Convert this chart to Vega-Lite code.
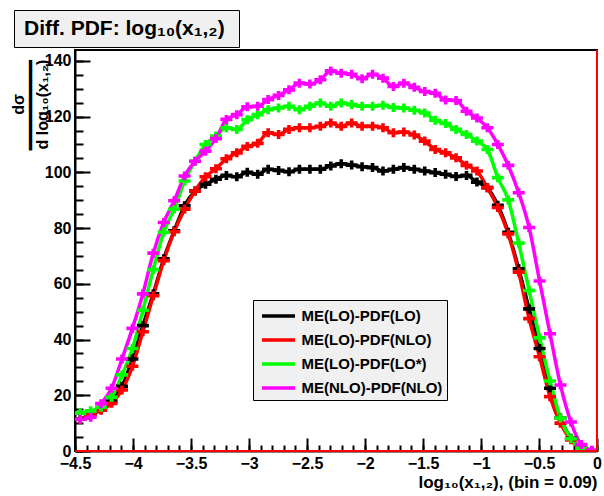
{
"$schema": "https://vega.github.io/schema/vega-lite/v6.json",
"width": 522, "height": 401,
"autosize": {"type": "none"},
"padding": {"left": 75, "top": 50, "right": 7, "bottom": 45},
"background": "white",
"config": {"view": {"stroke": "black", "strokeWidth": 2}, "font": "Liberation Sans"},
"data": {"values": [
{"x":-4.455,"y":11.5,"s":"ME(LO)-PDF(LO)"},{"x":-4.365,"y":13,"s":"ME(LO)-PDF(LO)"},{"x":-4.275,"y":15,"s":"ME(LO)-PDF(LO)"},{"x":-4.185,"y":17.8,"s":"ME(LO)-PDF(LO)"},{"x":-4.095,"y":23.2,"s":"ME(LO)-PDF(LO)"},{"x":-4.005,"y":33,"s":"ME(LO)-PDF(LO)"},{"x":-3.915,"y":45,"s":"ME(LO)-PDF(LO)"},{"x":-3.825,"y":56.4,"s":"ME(LO)-PDF(LO)"},{"x":-3.735,"y":69,"s":"ME(LO)-PDF(LO)"},{"x":-3.645,"y":79,"s":"ME(LO)-PDF(LO)"},
{"x":-3.555,"y":88,"s":"ME(LO)-PDF(LO)"},{"x":-3.465,"y":93.3,"s":"ME(LO)-PDF(LO)"},{"x":-3.375,"y":95.7,"s":"ME(LO)-PDF(LO)"},{"x":-3.285,"y":97.5,"s":"ME(LO)-PDF(LO)"},{"x":-3.195,"y":98.9,"s":"ME(LO)-PDF(LO)"},{"x":-3.105,"y":98.4,"s":"ME(LO)-PDF(LO)"},{"x":-3.015,"y":100,"s":"ME(LO)-PDF(LO)"},{"x":-2.925,"y":99.3,"s":"ME(LO)-PDF(LO)"},{"x":-2.835,"y":101.1,"s":"ME(LO)-PDF(LO)"},{"x":-2.745,"y":100.7,"s":"ME(LO)-PDF(LO)"},
{"x":-2.655,"y":100.2,"s":"ME(LO)-PDF(LO)"},{"x":-2.565,"y":101.1,"s":"ME(LO)-PDF(LO)"},{"x":-2.475,"y":101.1,"s":"ME(LO)-PDF(LO)"},{"x":-2.385,"y":101.1,"s":"ME(LO)-PDF(LO)"},{"x":-2.295,"y":102.3,"s":"ME(LO)-PDF(LO)"},{"x":-2.205,"y":103.1,"s":"ME(LO)-PDF(LO)"},{"x":-2.115,"y":102.6,"s":"ME(LO)-PDF(LO)"},{"x":-2.025,"y":102,"s":"ME(LO)-PDF(LO)"},{"x":-1.935,"y":101.7,"s":"ME(LO)-PDF(LO)"},{"x":-1.845,"y":100.5,"s":"ME(LO)-PDF(LO)"},
{"x":-1.755,"y":101.1,"s":"ME(LO)-PDF(LO)"},{"x":-1.665,"y":101.7,"s":"ME(LO)-PDF(LO)"},{"x":-1.575,"y":101.1,"s":"ME(LO)-PDF(LO)"},{"x":-1.485,"y":100.5,"s":"ME(LO)-PDF(LO)"},{"x":-1.395,"y":99.9,"s":"ME(LO)-PDF(LO)"},{"x":-1.305,"y":99.3,"s":"ME(LO)-PDF(LO)"},{"x":-1.215,"y":98.5,"s":"ME(LO)-PDF(LO)"},{"x":-1.125,"y":98.9,"s":"ME(LO)-PDF(LO)"},{"x":-1.035,"y":96.5,"s":"ME(LO)-PDF(LO)"},{"x":-0.945,"y":94.5,"s":"ME(LO)-PDF(LO)"},
{"x":-0.855,"y":88.2,"s":"ME(LO)-PDF(LO)"},{"x":-0.765,"y":78.5,"s":"ME(LO)-PDF(LO)"},{"x":-0.675,"y":65.4,"s":"ME(LO)-PDF(LO)"},{"x":-0.585,"y":51,"s":"ME(LO)-PDF(LO)"},{"x":-0.495,"y":36.8,"s":"ME(LO)-PDF(LO)"},{"x":-0.405,"y":22.5,"s":"ME(LO)-PDF(LO)"},{"x":-0.315,"y":11.8,"s":"ME(LO)-PDF(LO)"},{"x":-0.225,"y":4.6,"s":"ME(LO)-PDF(LO)"},{"x":-0.135,"y":1,"s":"ME(LO)-PDF(LO)"},{"x":-0.045,"y":0.1,"s":"ME(LO)-PDF(LO)"},

{"x":-4.455,"y":11.4,"s":"ME(LO)-PDF(NLO)"},{"x":-4.365,"y":13,"s":"ME(LO)-PDF(NLO)"},{"x":-4.275,"y":14.6,"s":"ME(LO)-PDF(NLO)"},{"x":-4.185,"y":17.1,"s":"ME(LO)-PDF(NLO)"},{"x":-4.095,"y":21.9,"s":"ME(LO)-PDF(NLO)"},{"x":-4.005,"y":30.4,"s":"ME(LO)-PDF(NLO)"},{"x":-3.915,"y":42.8,"s":"ME(LO)-PDF(NLO)"},{"x":-3.825,"y":55.7,"s":"ME(LO)-PDF(NLO)"},{"x":-3.735,"y":68.3,"s":"ME(LO)-PDF(NLO)"},{"x":-3.645,"y":78.7,"s":"ME(LO)-PDF(NLO)"},
{"x":-3.555,"y":86.8,"s":"ME(LO)-PDF(NLO)"},{"x":-3.465,"y":93.3,"s":"ME(LO)-PDF(NLO)"},{"x":-3.375,"y":98.4,"s":"ME(LO)-PDF(NLO)"},{"x":-3.285,"y":101.3,"s":"ME(LO)-PDF(NLO)"},{"x":-3.195,"y":104.9,"s":"ME(LO)-PDF(NLO)"},{"x":-3.105,"y":107,"s":"ME(LO)-PDF(NLO)"},{"x":-3.015,"y":109.3,"s":"ME(LO)-PDF(NLO)"},{"x":-2.925,"y":110.4,"s":"ME(LO)-PDF(NLO)"},{"x":-2.835,"y":114.2,"s":"ME(LO)-PDF(NLO)"},{"x":-2.745,"y":113.6,"s":"ME(LO)-PDF(NLO)"},
{"x":-2.655,"y":115.4,"s":"ME(LO)-PDF(NLO)"},{"x":-2.565,"y":116,"s":"ME(LO)-PDF(NLO)"},{"x":-2.475,"y":116,"s":"ME(LO)-PDF(NLO)"},{"x":-2.385,"y":116.5,"s":"ME(LO)-PDF(NLO)"},{"x":-2.295,"y":117.7,"s":"ME(LO)-PDF(NLO)"},{"x":-2.205,"y":116.5,"s":"ME(LO)-PDF(NLO)"},{"x":-2.115,"y":117.7,"s":"ME(LO)-PDF(NLO)"},{"x":-2.025,"y":116.5,"s":"ME(LO)-PDF(NLO)"},{"x":-1.935,"y":116.5,"s":"ME(LO)-PDF(NLO)"},{"x":-1.845,"y":116,"s":"ME(LO)-PDF(NLO)"},
{"x":-1.755,"y":114.2,"s":"ME(LO)-PDF(NLO)"},{"x":-1.665,"y":114.5,"s":"ME(LO)-PDF(NLO)"},{"x":-1.575,"y":113.4,"s":"ME(LO)-PDF(NLO)"},{"x":-1.485,"y":111.2,"s":"ME(LO)-PDF(NLO)"},{"x":-1.395,"y":108.2,"s":"ME(LO)-PDF(NLO)"},{"x":-1.305,"y":107,"s":"ME(LO)-PDF(NLO)"},{"x":-1.215,"y":105.2,"s":"ME(LO)-PDF(NLO)"},{"x":-1.125,"y":102.5,"s":"ME(LO)-PDF(NLO)"},{"x":-1.035,"y":100.5,"s":"ME(LO)-PDF(NLO)"},{"x":-0.945,"y":94.5,"s":"ME(LO)-PDF(NLO)"},
{"x":-0.855,"y":87.4,"s":"ME(LO)-PDF(NLO)"},{"x":-0.765,"y":77.9,"s":"ME(LO)-PDF(NLO)"},{"x":-0.675,"y":64.2,"s":"ME(LO)-PDF(NLO)"},{"x":-0.585,"y":47.5,"s":"ME(LO)-PDF(NLO)"},{"x":-0.495,"y":33.8,"s":"ME(LO)-PDF(NLO)"},{"x":-0.405,"y":19.5,"s":"ME(LO)-PDF(NLO)"},{"x":-0.315,"y":10,"s":"ME(LO)-PDF(NLO)"},{"x":-0.225,"y":4,"s":"ME(LO)-PDF(NLO)"},{"x":-0.135,"y":0.8,"s":"ME(LO)-PDF(NLO)"},{"x":-0.045,"y":0.1,"s":"ME(LO)-PDF(NLO)"},

{"x":-4.455,"y":13.6,"s":"ME(LO)-PDF(LO*)"},{"x":-4.365,"y":14.4,"s":"ME(LO)-PDF(LO*)"},{"x":-4.275,"y":15.7,"s":"ME(LO)-PDF(LO*)"},{"x":-4.185,"y":19.3,"s":"ME(LO)-PDF(LO*)"},{"x":-4.095,"y":27.3,"s":"ME(LO)-PDF(LO*)"},{"x":-4.005,"y":36.8,"s":"ME(LO)-PDF(LO*)"},{"x":-3.915,"y":50.5,"s":"ME(LO)-PDF(LO*)"},{"x":-3.825,"y":65.1,"s":"ME(LO)-PDF(LO*)"},{"x":-3.735,"y":78.5,"s":"ME(LO)-PDF(LO*)"},{"x":-3.645,"y":86.8,"s":"ME(LO)-PDF(LO*)"},
{"x":-3.555,"y":96.9,"s":"ME(LO)-PDF(LO*)"},{"x":-3.465,"y":104,"s":"ME(LO)-PDF(LO*)"},{"x":-3.375,"y":110,"s":"ME(LO)-PDF(LO*)"},{"x":-3.285,"y":113,"s":"ME(LO)-PDF(LO*)"},{"x":-3.195,"y":116,"s":"ME(LO)-PDF(LO*)"},{"x":-3.105,"y":115.4,"s":"ME(LO)-PDF(LO*)"},{"x":-3.015,"y":118.9,"s":"ME(LO)-PDF(LO*)"},{"x":-2.925,"y":120.7,"s":"ME(LO)-PDF(LO*)"},{"x":-2.835,"y":122.5,"s":"ME(LO)-PDF(LO*)"},{"x":-2.745,"y":123.1,"s":"ME(LO)-PDF(LO*)"},
{"x":-2.655,"y":123.7,"s":"ME(LO)-PDF(LO*)"},{"x":-2.565,"y":122.5,"s":"ME(LO)-PDF(LO*)"},{"x":-2.475,"y":123.7,"s":"ME(LO)-PDF(LO*)"},{"x":-2.385,"y":124.9,"s":"ME(LO)-PDF(LO*)"},{"x":-2.295,"y":123.7,"s":"ME(LO)-PDF(LO*)"},{"x":-2.205,"y":124.9,"s":"ME(LO)-PDF(LO*)"},{"x":-2.115,"y":124.3,"s":"ME(LO)-PDF(LO*)"},{"x":-2.025,"y":123.7,"s":"ME(LO)-PDF(LO*)"},{"x":-1.935,"y":123.7,"s":"ME(LO)-PDF(LO*)"},{"x":-1.845,"y":124.1,"s":"ME(LO)-PDF(LO*)"},
{"x":-1.755,"y":123.3,"s":"ME(LO)-PDF(LO*)"},{"x":-1.665,"y":123.1,"s":"ME(LO)-PDF(LO*)"},{"x":-1.575,"y":122.3,"s":"ME(LO)-PDF(LO*)"},{"x":-1.485,"y":121.3,"s":"ME(LO)-PDF(LO*)"},{"x":-1.395,"y":118.7,"s":"ME(LO)-PDF(LO*)"},{"x":-1.305,"y":117.5,"s":"ME(LO)-PDF(LO*)"},{"x":-1.215,"y":115.4,"s":"ME(LO)-PDF(LO*)"},{"x":-1.125,"y":113.6,"s":"ME(LO)-PDF(LO*)"},{"x":-1.035,"y":111.2,"s":"ME(LO)-PDF(LO*)"},{"x":-0.945,"y":108.2,"s":"ME(LO)-PDF(LO*)"},
{"x":-0.855,"y":98.1,"s":"ME(LO)-PDF(LO*)"},{"x":-0.765,"y":90.1,"s":"ME(LO)-PDF(LO*)"},{"x":-0.675,"y":74.6,"s":"ME(LO)-PDF(LO*)"},{"x":-0.585,"y":57.6,"s":"ME(LO)-PDF(LO*)"},{"x":-0.495,"y":40.6,"s":"ME(LO)-PDF(LO*)"},{"x":-0.405,"y":25.1,"s":"ME(LO)-PDF(LO*)"},{"x":-0.315,"y":11.8,"s":"ME(LO)-PDF(LO*)"},{"x":-0.225,"y":4.4,"s":"ME(LO)-PDF(LO*)"},{"x":-0.135,"y":1,"s":"ME(LO)-PDF(LO*)"},{"x":-0.045,"y":0.2,"s":"ME(LO)-PDF(LO*)"},

{"x":-4.455,"y":11.4,"s":"ME(NLO)-PDF(NLO)"},{"x":-4.365,"y":12.1,"s":"ME(NLO)-PDF(NLO)"},{"x":-4.275,"y":17,"s":"ME(NLO)-PDF(NLO)"},{"x":-4.185,"y":22.5,"s":"ME(NLO)-PDF(NLO)"},{"x":-4.095,"y":33,"s":"ME(NLO)-PDF(NLO)"},{"x":-4.005,"y":44,"s":"ME(NLO)-PDF(NLO)"},{"x":-3.915,"y":56.4,"s":"ME(NLO)-PDF(NLO)"},{"x":-3.825,"y":71,"s":"ME(NLO)-PDF(NLO)"},{"x":-3.735,"y":82,"s":"ME(NLO)-PDF(NLO)"},{"x":-3.645,"y":89.8,"s":"ME(NLO)-PDF(NLO)"},
{"x":-3.555,"y":98.7,"s":"ME(NLO)-PDF(NLO)"},{"x":-3.465,"y":104,"s":"ME(NLO)-PDF(NLO)"},{"x":-3.375,"y":107.6,"s":"ME(NLO)-PDF(NLO)"},{"x":-3.285,"y":112.1,"s":"ME(NLO)-PDF(NLO)"},{"x":-3.195,"y":119,"s":"ME(NLO)-PDF(NLO)"},{"x":-3.105,"y":120.7,"s":"ME(NLO)-PDF(NLO)"},{"x":-3.015,"y":123.5,"s":"ME(NLO)-PDF(NLO)"},{"x":-2.925,"y":123.7,"s":"ME(NLO)-PDF(NLO)"},{"x":-2.835,"y":126.1,"s":"ME(NLO)-PDF(NLO)"},{"x":-2.745,"y":127.6,"s":"ME(NLO)-PDF(NLO)"},
{"x":-2.655,"y":129.6,"s":"ME(NLO)-PDF(NLO)"},{"x":-2.565,"y":132,"s":"ME(NLO)-PDF(NLO)"},{"x":-2.475,"y":131.7,"s":"ME(NLO)-PDF(NLO)"},{"x":-2.385,"y":133.2,"s":"ME(NLO)-PDF(NLO)"},{"x":-2.295,"y":136.4,"s":"ME(NLO)-PDF(NLO)"},{"x":-2.205,"y":135.6,"s":"ME(NLO)-PDF(NLO)"},{"x":-2.115,"y":135.2,"s":"ME(NLO)-PDF(NLO)"},{"x":-2.025,"y":133.6,"s":"ME(NLO)-PDF(NLO)"},{"x":-1.935,"y":135.2,"s":"ME(NLO)-PDF(NLO)"},{"x":-1.845,"y":133.8,"s":"ME(NLO)-PDF(NLO)"},
{"x":-1.755,"y":130.8,"s":"ME(NLO)-PDF(NLO)"},{"x":-1.665,"y":132,"s":"ME(NLO)-PDF(NLO)"},{"x":-1.575,"y":130.5,"s":"ME(NLO)-PDF(NLO)"},{"x":-1.485,"y":129,"s":"ME(NLO)-PDF(NLO)"},{"x":-1.395,"y":128.4,"s":"ME(NLO)-PDF(NLO)"},{"x":-1.305,"y":126,"s":"ME(NLO)-PDF(NLO)"},{"x":-1.215,"y":125.8,"s":"ME(NLO)-PDF(NLO)"},{"x":-1.125,"y":121.9,"s":"ME(NLO)-PDF(NLO)"},{"x":-1.035,"y":119.5,"s":"ME(NLO)-PDF(NLO)"},{"x":-0.945,"y":116,"s":"ME(NLO)-PDF(NLO)"},
{"x":-0.855,"y":110,"s":"ME(NLO)-PDF(NLO)"},{"x":-0.765,"y":102.5,"s":"ME(NLO)-PDF(NLO)"},{"x":-0.675,"y":92.7,"s":"ME(NLO)-PDF(NLO)"},{"x":-0.585,"y":80.2,"s":"ME(NLO)-PDF(NLO)"},{"x":-0.495,"y":61,"s":"ME(NLO)-PDF(NLO)"},{"x":-0.405,"y":42.1,"s":"ME(NLO)-PDF(NLO)"},{"x":-0.315,"y":23.7,"s":"ME(NLO)-PDF(NLO)"},{"x":-0.225,"y":10.4,"s":"ME(NLO)-PDF(NLO)"},{"x":-0.135,"y":2.3,"s":"ME(NLO)-PDF(NLO)"},{"x":-0.045,"y":0.3,"s":"ME(NLO)-PDF(NLO)"}
]},
"layer": [
 {"mark": {"type": "line", "interpolate": "monotone", "strokeWidth": 3.5, "clip": true},
  "encoding": {
   "x": {"field": "x", "type": "quantitative", "scale": {"domain": [-4.5, 0], "nice": false, "zero": false},
    "axis": {"orient": "bottom", "values": [-4.5,-4,-3.5,-3,-2.5,-2,-1.5,-1,-0.5,0], "format": "~g", "grid": false,
     "domainColor": "black", "domainWidth": 2, "tickColor": "black", "tickWidth": 2, "tickSize": -13, "labelPadding": 17,
     "labelFont": "Liberation Sans", "labelFontSize": 16, "labelFontWeight": "bold", "labelColor": "black",
     "labelFlush": false, "labelOverlap": false, "labelBound": false,
     "title": "log₁₀(x₁,₂), (bin =  0.09)", "titleFont": "Liberation Sans", "titleFontSize": 17, "titleFontWeight": "bold", "titleColor": "black",
     "titleAnchor": "end", "titleAlign": "right", "titleX": 522, "titleY": 36, "titleBaseline": "alphabetic"}},
   "y": {"field": "y", "type": "quantitative", "scale": {"domain": [0, 143.9], "nice": false},
    "axis": {"orient": "left", "values": [0,20,40,60,80,100,120,140], "format": "d", "grid": false,
     "domainColor": "black", "domainWidth": 2, "tickColor": "black", "tickWidth": 2, "tickSize": -15, "labelPadding": 19,
     "labelFont": "Liberation Sans", "labelFontSize": 16, "labelFontWeight": "bold", "labelColor": "black",
     "labelOverlap": false, "labelBound": false,
     "title": ["dσ", "━━━━━━━━━", "d log₁₀(x₁,₂)"], "titleFont": "Liberation Sans", "titleFontSize": 16, "titleFontWeight": "bold", "titleColor": "black",
     "titleAngle": -90, "titleAlign": "center", "titleBaseline": "middle", "titleX": -57, "titleY": 54, "titleLineHeight": 12}},
   "color": {"field": "s", "type": "nominal",
    "scale": {"domain": ["ME(LO)-PDF(LO)", "ME(LO)-PDF(NLO)", "ME(LO)-PDF(LO*)", "ME(NLO)-PDF(NLO)"], "range": ["#000000", "#ff0000", "#00ff00", "#ff00ff"]},
    "legend": {"orient": "none", "legendX": 178, "legendY": 250, "title": null, "fillColor": "#f0f0f0", "strokeColor": "black",
     "padding": 4, "symbolType": "M-1.65,0L1.65,0", "symbolStrokeWidth": 3.5, "symbolSize": 400, "symbolOffset": 9.5, "rowPadding": 4,
     "labelFont": "Liberation Sans", "labelFontSize": 15, "labelFontWeight": "bold", "labelColor": "black", "labelOffset": 11, "labelLimit": 400}}
  }},
 {"mark": {"type": "point", "filled": true, "size": 144, "opacity": 1, "strokeWidth": 0, "clip": true},
  "encoding": {
   "x": {"field": "x", "type": "quantitative",
    "axis": {"orient": "bottom", "values": [-4.5,-4.4,-4.3,-4.2,-4.1,-4,-3.9,-3.8,-3.7,-3.6,-3.5,-3.4,-3.3,-3.2,-3.1,-3,-2.9,-2.8,-2.7,-2.6,-2.5,-2.4,-2.3,-2.2,-2.1,-2,-1.9,-1.8,-1.7,-1.6,-1.5,-1.4,-1.3,-1.2,-1.1,-1,-0.9,-0.8,-0.7,-0.6,-0.5,-0.4,-0.3,-0.2,-0.1,0],
     "labels": false, "domain": false, "grid": false, "title": null, "tickSize": -6, "tickWidth": 2, "tickColor": "black"}},
   "y": {"field": "y", "type": "quantitative",
    "axis": {"orient": "left", "values": [0,5,10,15,20,25,30,35,40,45,50,55,60,65,70,75,80,85,90,95,100,105,110,115,120,125,130,135,140],
     "labels": false, "domain": false, "grid": false, "title": null, "tickSize": -8, "tickWidth": 2, "tickColor": "black"}},
   "color": {"field": "s", "type": "nominal"},
   "shape": {"datum": "Diff. PDF:  log₁₀(x₁,₂)",
    "scale": {"range": ["M-1,-0.3L1,-0.3L1,0.3L-1,0.3Z M-0.3,-0.75L0.3,-0.75L0.3,0.75L-0.3,0.75Z"]},
    "legend": {"orient": "none", "legendX": -61, "legendY": -40, "title": null, "symbolOpacity": 0, "symbolSize": 1, "labelOffset": -19,
     "labelFont": "Liberation Sans", "labelFontSize": 21, "labelFontWeight": "bold", "labelColor": "black", "labelLimit": 400,
     "fillColor": "#f0f0f0", "strokeColor": "black", "padding": 8}}
  }},
 {"mark": {"type": "rule", "color": "red", "strokeWidth": 2}, "encoding": {"y": {"datum": 0, "axis": null}}},
 {"mark": {"type": "rule", "color": "red", "strokeWidth": 2}, "encoding": {"x": {"datum": 0, "axis": null}}}
],
"resolve": {"axis": {"x": "independent", "y": "independent"}}
}
